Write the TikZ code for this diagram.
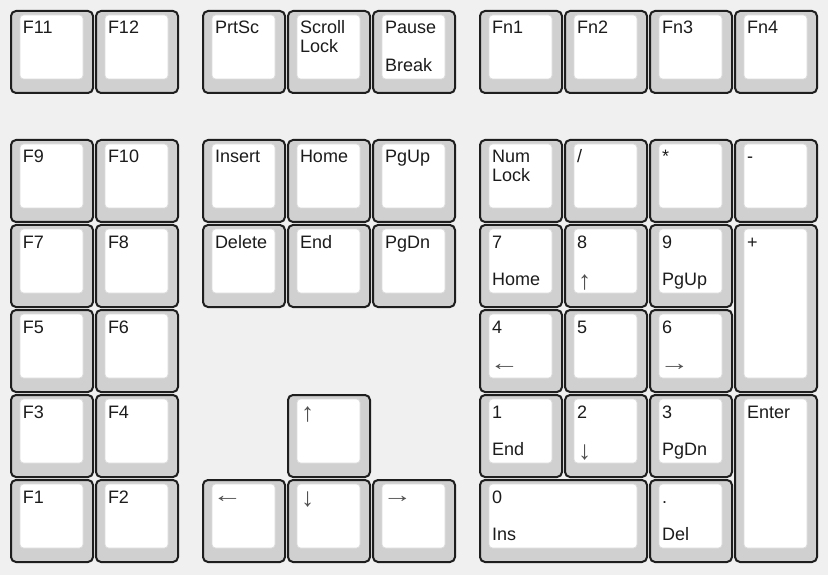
\documentclass[tikz,border=0pt]{standalone}
\usepackage{fontspec}
\usepackage{graphicx}
\setmainfont{Liberation Sans}
\definecolor{bgc}{HTML}{F0F0F0}
\definecolor{keyfill}{HTML}{D0D0D0}
\definecolor{keyborder}{HTML}{1E1E1E}
\definecolor{innerborder}{HTML}{DCDCDC}
\definecolor{legendc}{HTML}{1C1C1C}
\definecolor{arrowc}{HTML}{505050}
\tikzset{
 keyo/.style={draw=keyborder, fill=keyfill, line width=2pt, rounded corners=5pt, inner sep=0pt, outer sep=0pt, anchor=north west},
 keyi/.style={draw=innerborder, fill=white, line width=0.8pt, rounded corners=3.5pt, inner sep=0pt, outer sep=0pt, anchor=north west},
 legend/.style={inner sep=0pt, outer sep=0pt, anchor=base west, text=legendc, font=\fontsize{18}{19}\selectfont}
}
\newcommand\kcap[5]{%
 \node[keyo, minimum width={85*#4-3}, minimum height={85*#5-3}] (#1) at (#2+1,#3+1) {};
 \node[keyi, minimum width={85*#4-22}, minimum height={85*#5-21}] (#1i) at (#2+10,#3+5) {};
}
\newcommand\tlab[2]{\node[legend] (#1t) at ([shift={(12,23)}]#1.north west) {#2};}
\newcommand\slab[2]{\node[legend] (#1s) at ([shift={(12,42)}]#1.north west) {#2};}
\newcommand\blab[2]{\node[legend] (#1b) at ([shift={(12,60.5)}]#1.north west) {#2};}
\newcommand\varr[1]{\hspace*{1pt}\textcolor{arrowc}{\raisebox{\dimexpr\depth-4.3pt\relax}{\resizebox*{!}{15.5pt}{#1}}}}
\newcommand\harr[1]{\hspace*{-2.5pt}\textcolor{arrowc}{\raisebox{\dimexpr3.4pt-0.5\height+0.5\depth\relax}{\scalebox{1.65}[1.2]{#1}}}}
\begin{document}
\begin{tikzpicture}[x=1pt,y=-1pt]
\useasboundingbox (0,0) rectangle (828,575);
\fill[bgc] (0,0) rectangle (828,575);
% row 0
\kcap{fa}{10}{10}{1}{1}\tlab{fa}{F11}
\kcap{fb}{95}{10}{1}{1}\tlab{fb}{F12}
\kcap{prt}{202}{10}{1}{1}\tlab{prt}{PrtSc}
\kcap{scr}{287}{10}{1}{1}\tlab{scr}{Scroll}\slab{scr}{Lock}
\kcap{pau}{372}{10}{1}{1}\tlab{pau}{Pause}\blab{pau}{Break}
\kcap{fn1}{479}{10}{1}{1}\tlab{fn1}{Fn1}
\kcap{fn2}{564}{10}{1}{1}\tlab{fn2}{Fn2}
\kcap{fn3}{649}{10}{1}{1}\tlab{fn3}{Fn3}
\kcap{fn4}{734}{10}{1}{1}\tlab{fn4}{Fn4}
% row 1
\kcap{f9}{10}{139}{1}{1}\tlab{f9}{F9}
\kcap{f10}{95}{139}{1}{1}\tlab{f10}{F10}
\kcap{ins}{202}{139}{1}{1}\tlab{ins}{Insert}
\kcap{hom}{287}{139}{1}{1}\tlab{hom}{Home}
\kcap{pgu}{372}{139}{1}{1}\tlab{pgu}{PgUp}
\kcap{num}{479}{139}{1}{1}\tlab{num}{Num}\slab{num}{Lock}
\kcap{dvd}{564}{139}{1}{1}\tlab{dvd}{/}
\kcap{mul}{649}{139}{1}{1}\tlab{mul}{*}
\kcap{sub}{734}{139}{1}{1}\tlab{sub}{-}
% row 2
\kcap{f7}{10}{224}{1}{1}\tlab{f7}{F7}
\kcap{f8}{95}{224}{1}{1}\tlab{f8}{F8}
\kcap{dlt}{202}{224}{1}{1}\tlab{dlt}{Delete}
\kcap{endk}{287}{224}{1}{1}\tlab{endk}{End}
\kcap{pgd}{372}{224}{1}{1}\tlab{pgd}{PgDn}
\kcap{nsev}{479}{224}{1}{1}\tlab{nsev}{7}\blab{nsev}{Home}
\kcap{neig}{564}{224}{1}{1}\tlab{neig}{8}\blab{neig}{\varr{↑}}
\kcap{nnin}{649}{224}{1}{1}\tlab{nnin}{9}\blab{nnin}{PgUp}
\kcap{plus}{734}{224}{1}{2}\tlab{plus}{+}
% row 3
\kcap{f5}{10}{309}{1}{1}\tlab{f5}{F5}
\kcap{f6}{95}{309}{1}{1}\tlab{f6}{F6}
\kcap{nfou}{479}{309}{1}{1}\tlab{nfou}{4}\blab{nfou}{\harr{←}}
\kcap{nfiv}{564}{309}{1}{1}\tlab{nfiv}{5}
\kcap{nsix}{649}{309}{1}{1}\tlab{nsix}{6}\blab{nsix}{\harr{→}}
% row 4
\kcap{f3}{10}{394}{1}{1}\tlab{f3}{F3}
\kcap{f4}{95}{394}{1}{1}\tlab{f4}{F4}
\kcap{up}{287}{394}{1}{1}\tlab{up}{\varr{↑}}
\kcap{none}{479}{394}{1}{1}\tlab{none}{1}\blab{none}{End}
\kcap{ntwo}{564}{394}{1}{1}\tlab{ntwo}{2}\blab{ntwo}{\varr{↓}}
\kcap{nthr}{649}{394}{1}{1}\tlab{nthr}{3}\blab{nthr}{PgDn}
\kcap{ent}{734}{394}{1}{2}\tlab{ent}{Enter}
% row 5
\kcap{f1}{10}{479}{1}{1}\tlab{f1}{F1}
\kcap{f2}{95}{479}{1}{1}\tlab{f2}{F2}
\kcap{lft}{202}{479}{1}{1}\tlab{lft}{\harr{←}}
\kcap{dwn}{287}{479}{1}{1}\tlab{dwn}{\varr{↓}}
\kcap{rgt}{372}{479}{1}{1}\tlab{rgt}{\harr{→}}
\kcap{nzer}{479}{479}{2}{1}\tlab{nzer}{0}\blab{nzer}{Ins}
\kcap{ndot}{649}{479}{1}{1}\tlab{ndot}{.}\blab{ndot}{Del}
\end{tikzpicture}
\end{document}
